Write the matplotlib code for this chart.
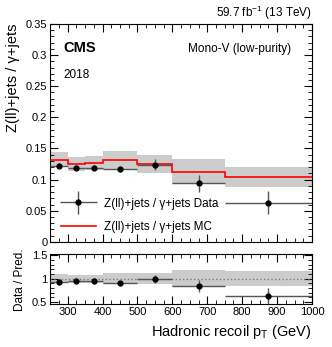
import numpy as np
import matplotlib
matplotlib.use("Agg")
import matplotlib.pyplot as plt
from matplotlib.ticker import MultipleLocator
from matplotlib.container import ErrorbarContainer
from matplotlib.legend_handler import HandlerErrorbar

plt.rcParams['font.family'] = ['Liberation Sans', 'DejaVu Sans']
plt.rcParams['mathtext.fontset'] = 'custom'
plt.rcParams['mathtext.rm'] = 'Liberation Sans'
plt.rcParams['mathtext.it'] = 'Liberation Sans:italic'

bin_edges = [250, 300, 350, 400, 500, 600, 750, 1000]
data_ratio = [0.122, 0.119, 0.119, 0.117, 0.124, 0.094, 0.063]
data_err = [0.004, 0.004, 0.004, 0.004, 0.009, 0.014, 0.018]
mc_ratio = [0.132, 0.125, 0.127, 0.131, 0.125, 0.113, 0.104]
mc_err = [0.012, 0.011, 0.011, 0.015, 0.014, 0.020, 0.016]
ratio_vals = [0.93, 0.96, 0.95, 0.90, 0.99, 0.84, 0.62]
ratio_err = [0.06, 0.06, 0.06, 0.06, 0.09, 0.13, 0.17]

edges = np.array(bin_edges)
centers = 0.5 * (edges[:-1] + edges[1:])
halfw = 0.5 * (edges[1:] - edges[:-1])
mc = np.array(mc_ratio)
mce = np.array(mc_err)

fig = plt.figure(figsize=(3.32, 3.47), dpi=100)
ax = fig.add_axes([0.151, 0.303, 0.789, 0.628])
rax = fig.add_axes([0.151, 0.123, 0.789, 0.144])

# MC uncertainty band
for i in range(len(mc)):
    ax.fill_between([edges[i], edges[i + 1]], mc[i] - mce[i], mc[i] + mce[i],
                    color='#cccccc', lw=0, zorder=1)
ax.stairs(mc, edges, baseline=None, color='red', lw=1.2, zorder=3,
          label='Z(ll)+jets / γ+jets MC')
ax.errorbar(centers, data_ratio, xerr=halfw, yerr=data_err, fmt='o', color='black',
            ecolor='#555555', elinewidth=1, ms=3.5, zorder=4,
            label='Z(ll)+jets / γ+jets Data')

ax.set_xlim(250, 1000)
ax.set_ylim(0, 0.35)
ax.yaxis.set_minor_locator(MultipleLocator(0.01))
ax.xaxis.set_major_locator(MultipleLocator(100))
ax.xaxis.set_minor_locator(MultipleLocator(25))
ax.set_yticks([0, 0.05, 0.1, 0.15, 0.2, 0.25, 0.3, 0.35])
ax.set_yticklabels(['0', '0.05', '0.1', '0.15', '0.2', '0.25', '0.3', '0.35'])
ax.tick_params(labelbottom=False)
ax.set_ylabel('Z(ll)+jets / γ+jets', fontsize=10.5, loc='top')
h, l = ax.get_legend_handles_labels()
ax.legend(h[::-1], l[::-1], loc='lower left', bbox_to_anchor=(0.0, -0.01), frameon=False,
          fontsize=8.5, handlelength=3.0, handletextpad=0.7, labelspacing=1.0,
          handler_map={ErrorbarContainer: HandlerErrorbar(xerr_size=1.6, yerr_size=1.0)})

ax.text(0.05, 0.87, 'CMS', transform=ax.transAxes, fontsize=10.5, fontweight='bold')
ax.text(0.05, 0.75, '2018', transform=ax.transAxes, fontsize=8.5)
ax.text(0.92, 0.87, 'Mono-V (low-purity)', transform=ax.transAxes, fontsize=8.5, ha='right')
ax.text(1.0, 1.03, '59.7 fb$^{-1}$ (13 TeV)', transform=ax.transAxes, fontsize=8.5, ha='right')

# ratio panel
rerr_band = mce / mc
for i in range(len(mc)):
    rax.fill_between([edges[i], edges[i + 1]], 1 - rerr_band[i], 1 + rerr_band[i],
                     color='#cccccc', lw=0, zorder=1)
rax.axhline(1, color='#777777', ls=':', lw=1, zorder=2)
rax.errorbar(centers, ratio_vals, xerr=halfw, yerr=ratio_err, fmt='o', color='black',
             ecolor='#555555', elinewidth=1, ms=3.5, zorder=4)
rax.set_xlim(250, 1000)
rax.set_ylim(0.45, 1.52)
rax.set_yticks([0.5, 1, 1.5])
rax.set_yticklabels(['0.5', '1', '1.5'])
rax.yaxis.set_minor_locator(MultipleLocator(0.1))
rax.xaxis.set_major_locator(MultipleLocator(100))
rax.xaxis.set_minor_locator(MultipleLocator(25))
rax.set_ylabel('Data / Pred.', fontsize=8.5)
rax.set_xlabel('Hadronic recoil p$_{\\mathrm{T}}$ (GeV)', fontsize=10.5, loc='right')

for a in (ax, rax):
    a.tick_params(which='both', direction='in', top=True, right=True, labelsize=8, pad=2)
    a.tick_params(which='major', length=6)
    a.tick_params(which='minor', length=3)

fig.align_ylabels([ax, rax])
fig.savefig('out.png', dpi=100)
